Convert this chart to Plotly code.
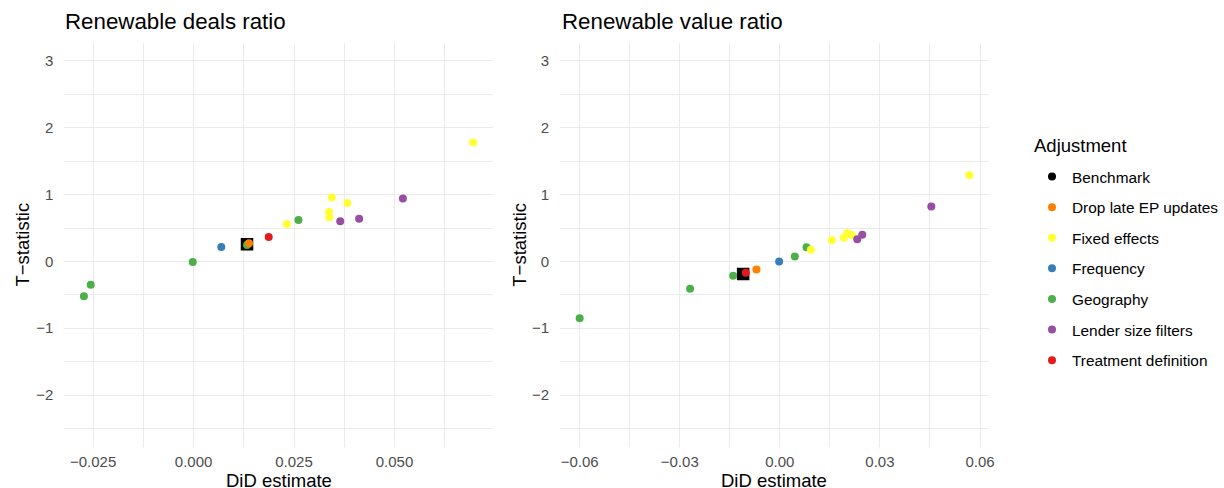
import plotly.graph_objects as go

# ---------------- data ----------------
groups = ["Benchmark", "Drop late EP updates", "Fixed effects", "Frequency",
          "Geography", "Lender size filters", "Treatment definition"]
group_colors = ["#000000", "#FF7F00", "#FFFF33", "#377EB8",
                "#4DAF4A", "#984EA3", "#E41A1C"]

# Panel 1: Renewable deals ratio
deals_group = ["Benchmark",
               "Geography", "Geography", "Geography", "Geography", "Geography",
               "Drop late EP updates",
               "Fixed effects", "Fixed effects", "Fixed effects", "Fixed effects",
               "Fixed effects", "Fixed effects",
               "Frequency",
               "Lender size filters", "Lender size filters", "Lender size filters",
               "Treatment definition"]
deals_est = [0.0133,
             -0.0273, -0.0256, -0.0002, 0.0133, 0.0261,
             0.0138,
             0.0232, 0.0344, 0.0337, 0.0338, 0.0383, 0.0696,
             0.0069,
             0.0365, 0.0412, 0.0521,
             0.0187]
deals_t = [0.257,
           -0.52, -0.35, -0.01, 0.245, 0.62,
           0.27,
           0.56, 0.955, 0.74, 0.66, 0.875, 1.78,
           0.215,
           0.60, 0.64, 0.94,
           0.365]

# Panel 2: Renewable value ratio
value_group = ["Benchmark",
               "Geography", "Geography", "Geography", "Geography", "Geography",
               "Drop late EP updates",
               "Fixed effects", "Fixed effects", "Fixed effects", "Fixed effects",
               "Fixed effects", "Fixed effects",
               "Frequency",
               "Lender size filters", "Lender size filters", "Lender size filters",
               "Treatment definition"]
value_est = [-0.0110,
             -0.0600, -0.0269, -0.0140, 0.0045, 0.0080,
             -0.0070,
             0.0093, 0.0156, 0.0192, 0.0202, 0.0216, 0.0568,
             -0.0002,
             0.0232, 0.0247, 0.0454,
             -0.0102]
value_t = [-0.19,
           -0.85, -0.41, -0.215, 0.075, 0.21,
           -0.12,
           0.175, 0.315, 0.355, 0.42, 0.395, 1.29,
           0.0,
           0.33, 0.40, 0.82,
           -0.17]

panel_titles = ["Renewable deals ratio", "Renewable value ratio"]
x_title = "DiD estimate"
y_title = "T\u2212statistic"
legend_title = "Adjustment"

deals_xticks = [-0.025, 0.0, 0.025, 0.05]
deals_xticklabels = ["\u22120.025", "0.000", "0.025", "0.050"]
value_xticks = [-0.06, -0.03, 0.0, 0.03, 0.06]
value_xticklabels = ["\u22120.06", "\u22120.03", "0.00", "0.03", "0.06"]
yticks = [-2, -1, 0, 1, 2, 3]
yticklabels = ["\u22122", "\u22121", "0", "1", "2", "3"]
y_limits = [-2.5, 3.0]

# ---------------- figure ----------------
FONT = "Liberation Sans, Arial, Helvetica, sans-serif"
GRID = "#EBEBEB"
W, H = 1224, 488


def expand(lo, hi, f=0.05):
    d = (hi - lo) * f
    return [lo - d, hi + d]


fig = go.Figure()

# draw order (so that overlaps look like the reference); legend order via legendrank
draw_order = ["Benchmark", "Geography", "Drop late EP updates", "Fixed effects",
              "Frequency", "Lender size filters", "Treatment definition"]

panels = [(deals_est, deals_t, deals_group, "x", "y"),
          (value_est, value_t, value_group, "x2", "y2")]

# benchmark squares (underneath)
for est, tv, grp, xa, ya in panels:
    bx = [e for e, g in zip(est, grp) if g == "Benchmark"]
    by = [t for t, g in zip(tv, grp) if g == "Benchmark"]
    fig.add_trace(go.Scatter(x=bx, y=by, mode="markers", xaxis=xa, yaxis=ya,
                             marker=dict(symbol="square", size=12.5, color="#000000"),
                             showlegend=False, hoverinfo="skip"))

for g in draw_order:
    col = group_colors[groups.index(g)]
    rank = groups.index(g) + 1
    for i, (est, tv, grp, xa, ya) in enumerate(panels):
        xs = [e for e, gg in zip(est, grp) if gg == g]
        ys = [t for t, gg in zip(tv, grp) if gg == g]
        fig.add_trace(go.Scatter(x=xs, y=ys, mode="markers", xaxis=xa, yaxis=ya,
                                 name=g, legendgroup=g, legendrank=rank,
                                 showlegend=(i == 0),
                                 marker=dict(symbol="circle", size=8, color=col,
                                             line=dict(width=0))))

ydom = [1 - 446.8 / H, 1 - 42.6 / H]
xdom1 = [64.8 / W, 495.5 / W]
xdom2 = [563.4 / W, 994.5 / W]

tickfont = dict(family=FONT, size=15, color="#4D4D4D")


def xaxis(dom, rng, tv, tt, minor_dt, anchor):
    return dict(domain=dom, range=rng, tickvals=tv, ticktext=tt, anchor=anchor,
                showgrid=True, gridcolor=GRID, gridwidth=1.4, zeroline=False,
                showline=False, ticks="outside", ticklen=1,
                tickcolor="rgba(0,0,0,0)", tickfont=tickfont,
                minor=dict(dtick=minor_dt, tick0=0, showgrid=True, gridcolor=GRID,
                           gridwidth=0.7, ticks=""))


def yaxis(anchor):
    return dict(domain=ydom, range=expand(*y_limits), tickvals=yticks,
                ticktext=yticklabels, anchor=anchor,
                showgrid=True, gridcolor=GRID, gridwidth=1.4, zeroline=False,
                showline=False, ticks="outside", ticklen=7,
                tickcolor="rgba(0,0,0,0)", tickfont=tickfont,
                minor=dict(dtick=0.5, tick0=0, showgrid=True, gridcolor=GRID,
                           gridwidth=0.7, ticks=""))


fig.update_layout(
    width=W, height=H,
    margin=dict(l=0, r=0, t=0, b=0),
    paper_bgcolor="white", plot_bgcolor="white",
    font=dict(family=FONT, color="#000000"),
    xaxis=xaxis(xdom1, expand(min(deals_est), max(deals_est)), deals_xticks,
                deals_xticklabels, 0.0125, "y"),
    yaxis=yaxis("x"),
    xaxis2=xaxis(xdom2, expand(min(value_est), max(value_est)), value_xticks,
                 value_xticklabels, 0.015, "y2"),
    yaxis2=yaxis("x2"),
    legend=dict(x=1038 / W, y=1 - 160 / H, xanchor="left", yanchor="top",
                font=dict(family=FONT, size=15.4, color="#000000"),
                tracegroupgap=7.6, itemsizing="trace", bgcolor="rgba(0,0,0,0)"),
)

ann = []
for title, x0 in zip(panel_titles, [63 / W, 563 / W]):
    ann.append(dict(text=title, x=x0, y=1 - 22 / H, xref="paper", yref="paper",
                    xanchor="left", yanchor="middle", showarrow=False,
                    font=dict(family=FONT, size=22.3, color="#000000")))
for dom in [xdom1, xdom2]:
    ann.append(dict(text=x_title, x=(dom[0] + dom[1]) / 2, y=1 - 480 / H,
                    xref="paper", yref="paper", xanchor="center", yanchor="middle",
                    showarrow=False, font=dict(family=FONT, size=18.5, color="#000000")))
for xc in [23 / W, 523 / W]:
    ann.append(dict(text=y_title, x=xc, y=(ydom[0] + ydom[1]) / 2, textangle=-90,
                    xref="paper", yref="paper", xanchor="center", yanchor="middle",
                    showarrow=False, font=dict(family=FONT, size=18.5, color="#000000")))
ann.append(dict(text=legend_title, x=1038 / W, y=1 - 145 / H, xref="paper", yref="paper",
                xanchor="left", yanchor="middle", showarrow=False,
                font=dict(family=FONT, size=18.5, color="#000000")))
fig.update_layout(annotations=ann)

fig.write_html("out.html", config={"displayModeBar": False},
               post_script="document.body.style.margin='0px';document.body.style.overflow='hidden';")
